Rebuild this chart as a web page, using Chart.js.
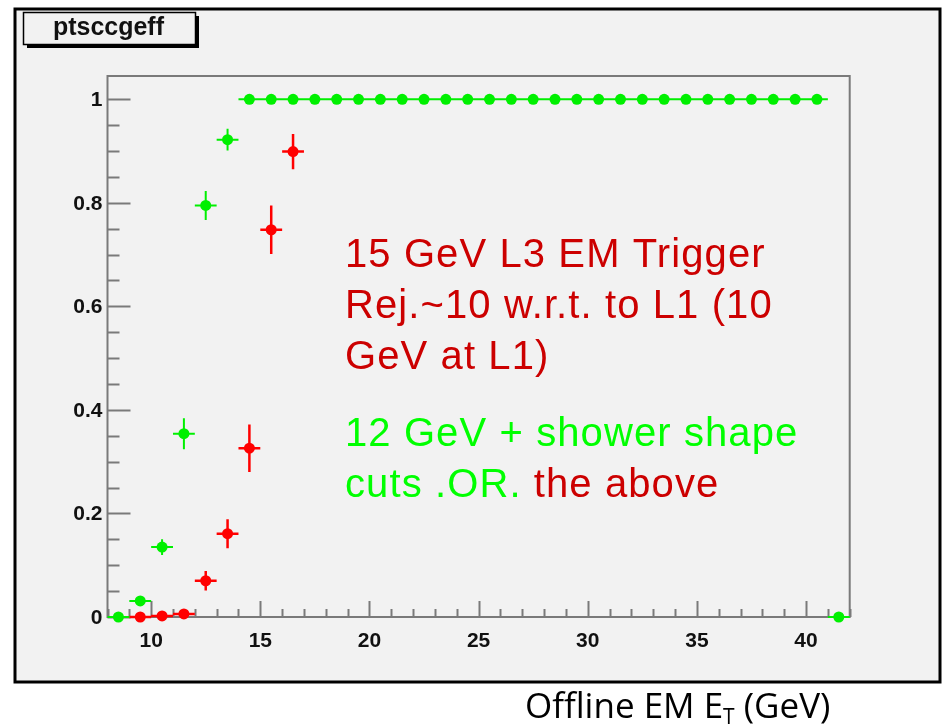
<!DOCTYPE html>
<html>
<head>
<meta charset="utf-8">
<title>ptsccgeff</title>
<script src="https://cdn.jsdelivr.net/npm/chart.js@4/dist/chart.umd.min.js"></script>
<style>
  html, body { margin: 0; padding: 0; background: #fff; }
  #wrap { width: 944px; height: 728px; }
</style>
</head>
<body>
<div id="wrap"><canvas id="eff" width="944" height="728"></canvas></div>
<script>
'use strict';

// Efficiency vs offline EM ET, 1 GeV bins
const shapeX   = [8.5, 9.5, 10.5, 11.5, 12.5, 13.5, 14.5, 15.5, 16.5, 17.5, 18.5, 19.5, 20.5, 21.5, 22.5, 23.5, 24.5,
                  25.5, 26.5, 27.5, 28.5, 29.5, 30.5, 31.5, 32.5, 33.5, 34.5, 35.5, 36.5, 37.5, 38.5, 39.5, 40.5, 41.5];
const shapeEff = [0, 0.031, 0.135, 0.354, 0.795, 0.922, 1, 1, 1, 1, 1, 1, 1, 1, 1, 1, 1,
                  1, 1, 1, 1, 1, 1, 1, 1, 1, 1, 1, 1, 1, 1, 1, 1, 0];
const shapeErr = [0, 0.008, 0.015, 0.030, 0.028, 0.021, 0, 0, 0, 0, 0, 0, 0, 0, 0, 0, 0,
                  0, 0, 0, 0, 0, 0, 0, 0, 0, 0, 0, 0, 0, 0, 0, 0, 0];

const l3X   = [9.5, 10.5, 11.5, 12.5, 13.5, 14.5, 15.5, 16.5];
const l3Eff = [0, 0.002, 0.006, 0.070, 0.161, 0.326, 0.748, 0.899];
const l3Err = [0, 0.002, 0.004, 0.019, 0.028, 0.046, 0.047, 0.034];

const binHalfWidth = 0.5;

const xMajorTicks = [10, 15, 20, 25, 30, 35, 40];
const yMajorTicks = [0, 0.2, 0.4, 0.6, 0.8, 1];
const yTickLabels = ['0', '0.2', '0.4', '0.6', '0.8', '1'];

const histName = 'ptsccgeff';
const redLines = ['15 GeV L3 EM Trigger', 'Rej.~10 w.r.t. to L1 (10', 'GeV at L1)'];
const greenLine1 = '12 GeV + shower shape';
const greenLine2 = 'cuts .OR. ';
const redTail = 'the above';

const GREEN = '#00f000';
const RED = '#ff0000';
const TEXT_GREEN = '#00ff00';
const TEXT_RED = '#cc0000';
const AXIS = '#7a7a7a';

function toPoints(xs, ys) {
  return xs.map((x, i) => ({ x: x, y: ys[i] }));
}

// canvas, pad frame and the stat-box style title
const padPlugin = {
  id: 'pad',
  beforeDraw(chart) {
    const ctx = chart.ctx;
    ctx.save();
    ctx.fillStyle = '#ffffff';
    ctx.fillRect(0, 0, chart.width, chart.height);
    ctx.fillStyle = '#f2f2f2';
    ctx.fillRect(15, 9, 925, 673);
    ctx.strokeStyle = '#000';
    ctx.lineWidth = 3;
    ctx.strokeRect(15, 9, 925, 673);

    // title box with drop shadow
    ctx.fillStyle = '#000';
    ctx.fillRect(27, 16, 172, 32);
    ctx.fillStyle = '#f2f2f2';
    ctx.fillRect(23.5, 12.5, 172, 32);
    ctx.lineWidth = 1.5;
    ctx.strokeRect(23.5, 12.5, 172, 32);
    ctx.fillStyle = '#111';
    ctx.font = 'bold 25px "Liberation Sans", Arial, sans-serif';
    ctx.textBaseline = 'alphabetic';
    const w = ctx.measureText(histName).width;
    ctx.translate(53, 35);
    ctx.scale(111 / w, 1);
    ctx.fillText(histName, 0, 0);
    ctx.restore();
  },
  beforeDatasetsDraw(chart) {
    const ctx = chart.ctx;
    const a = chart.chartArea;
    const xs = chart.scales.x, ys = chart.scales.y;
    ctx.save();
    ctx.strokeStyle = AXIS;
    ctx.lineWidth = 2;
    ctx.strokeRect(a.left, a.top, a.right - a.left, a.bottom - a.top);

    // x ticks point up into the frame
    ctx.beginPath();
    for (let v = Math.ceil(xs.min); v <= xs.max; v++) {
      const px = Math.round(xs.getPixelForValue(v)) + 0.5;
      const len = xMajorTicks.includes(v) ? 16 : 8;
      ctx.moveTo(px, a.bottom);
      ctx.lineTo(px, a.bottom - len);
    }
    // y ticks point right
    for (let k = 0; k <= 20; k++) {
      const v = k * 0.05;
      const py = Math.round(ys.getPixelForValue(v)) + 0.5;
      const len = k % 4 === 0 ? 23 : 12;
      ctx.moveTo(a.left, py);
      ctx.lineTo(a.left + len, py);
    }
    ctx.stroke();

    ctx.fillStyle = '#111';
    ctx.font = 'bold 21px "Liberation Sans", Arial, sans-serif';
    ctx.textAlign = 'center';
    ctx.textBaseline = 'alphabetic';
    xMajorTicks.forEach(v => ctx.fillText(String(v), xs.getPixelForValue(v), a.bottom + 30));
    ctx.textAlign = 'right';
    ctx.textBaseline = 'middle';
    yMajorTicks.forEach((v, i) => ctx.fillText(yTickLabels[i], a.left - 5, ys.getPixelForValue(v) + 1));

    // error bars under the markers
    const bars = [[l3X, l3Eff, l3Err, RED, 2.5], [shapeX, shapeEff, shapeErr, GREEN, 2]];
    bars.forEach(([bx, by, be, col, lw]) => {
      ctx.strokeStyle = col;
      ctx.lineWidth = lw;
      ctx.beginPath();
      bx.forEach((x, i) => {
        const py = ys.getPixelForValue(by[i]);
        ctx.moveTo(xs.getPixelForValue(x - binHalfWidth), py);
        ctx.lineTo(xs.getPixelForValue(x + binHalfWidth), py);
        if (be[i] > 0) {
          const px = xs.getPixelForValue(x);
          ctx.moveTo(px, ys.getPixelForValue(by[i] + be[i]));
          ctx.lineTo(px, ys.getPixelForValue(by[i] - be[i]));
        }
      });
      ctx.stroke();
    });
    ctx.restore();
  },
  afterDraw(chart) {
    const ctx = chart.ctx;
    ctx.save();
    ctx.textBaseline = 'alphabetic';
    ctx.textAlign = 'left';
    ctx.font = '40px "Liberation Sans", Arial, sans-serif';
    ctx.letterSpacing = '1.1px';
    ctx.fillStyle = TEXT_RED;
    redLines.forEach((t, i) => ctx.fillText(t, 345, 267 + i * 51));
    ctx.fillStyle = TEXT_GREEN;
    ctx.fillText(greenLine1, 345, 446);
    ctx.fillText(greenLine2, 345, 497);
    const w = ctx.measureText(greenLine2).width;
    ctx.fillStyle = TEXT_RED;
    ctx.fillText(redTail, 345 + w, 497);
    ctx.letterSpacing = '0px';

    // axis title below the pad
    ctx.fillStyle = '#000';
    ctx.font = '35px "Open Sans", "Noto Sans", sans-serif';
    const main = 'Offline EM E';
    ctx.fillText(main, 525, 718);
    let x = 525 + ctx.measureText(main).width;
    ctx.font = '21px "Open Sans", "Noto Sans", sans-serif';
    ctx.fillText('T', x, 724);
    x += ctx.measureText('T').width;
    ctx.font = '35px "Open Sans", "Noto Sans", sans-serif';
    ctx.fillText(' (GeV)', x, 718);
    ctx.restore();
  }
};

new Chart(document.getElementById('eff'), {
  type: 'scatter',
  data: {
    datasets: [
      { data: toPoints(shapeX, shapeEff), backgroundColor: GREEN, borderWidth: 0,
        pointRadius: 5.5, pointHoverRadius: 5.5, clip: false, order: 0 },
      { data: toPoints(l3X, l3Eff), backgroundColor: RED, borderWidth: 0,
        pointRadius: 5.5, pointHoverRadius: 5.5, clip: false, order: 1 }
    ]
  },
  options: {
    responsive: false,
    animation: false,
    devicePixelRatio: 1,
    layout: { padding: { left: 107.5, top: 76, right: 94.3, bottom: 111 } },
    plugins: { legend: { display: false }, tooltip: { enabled: false }, title: { display: false } },
    scales: {
      x: { type: 'linear', min: 8, max: 42, display: false },
      y: { type: 'linear', min: 0, max: 1.045, display: false }
    }
  },
  plugins: [padPlugin]
});
</script>
</body>
</html>
